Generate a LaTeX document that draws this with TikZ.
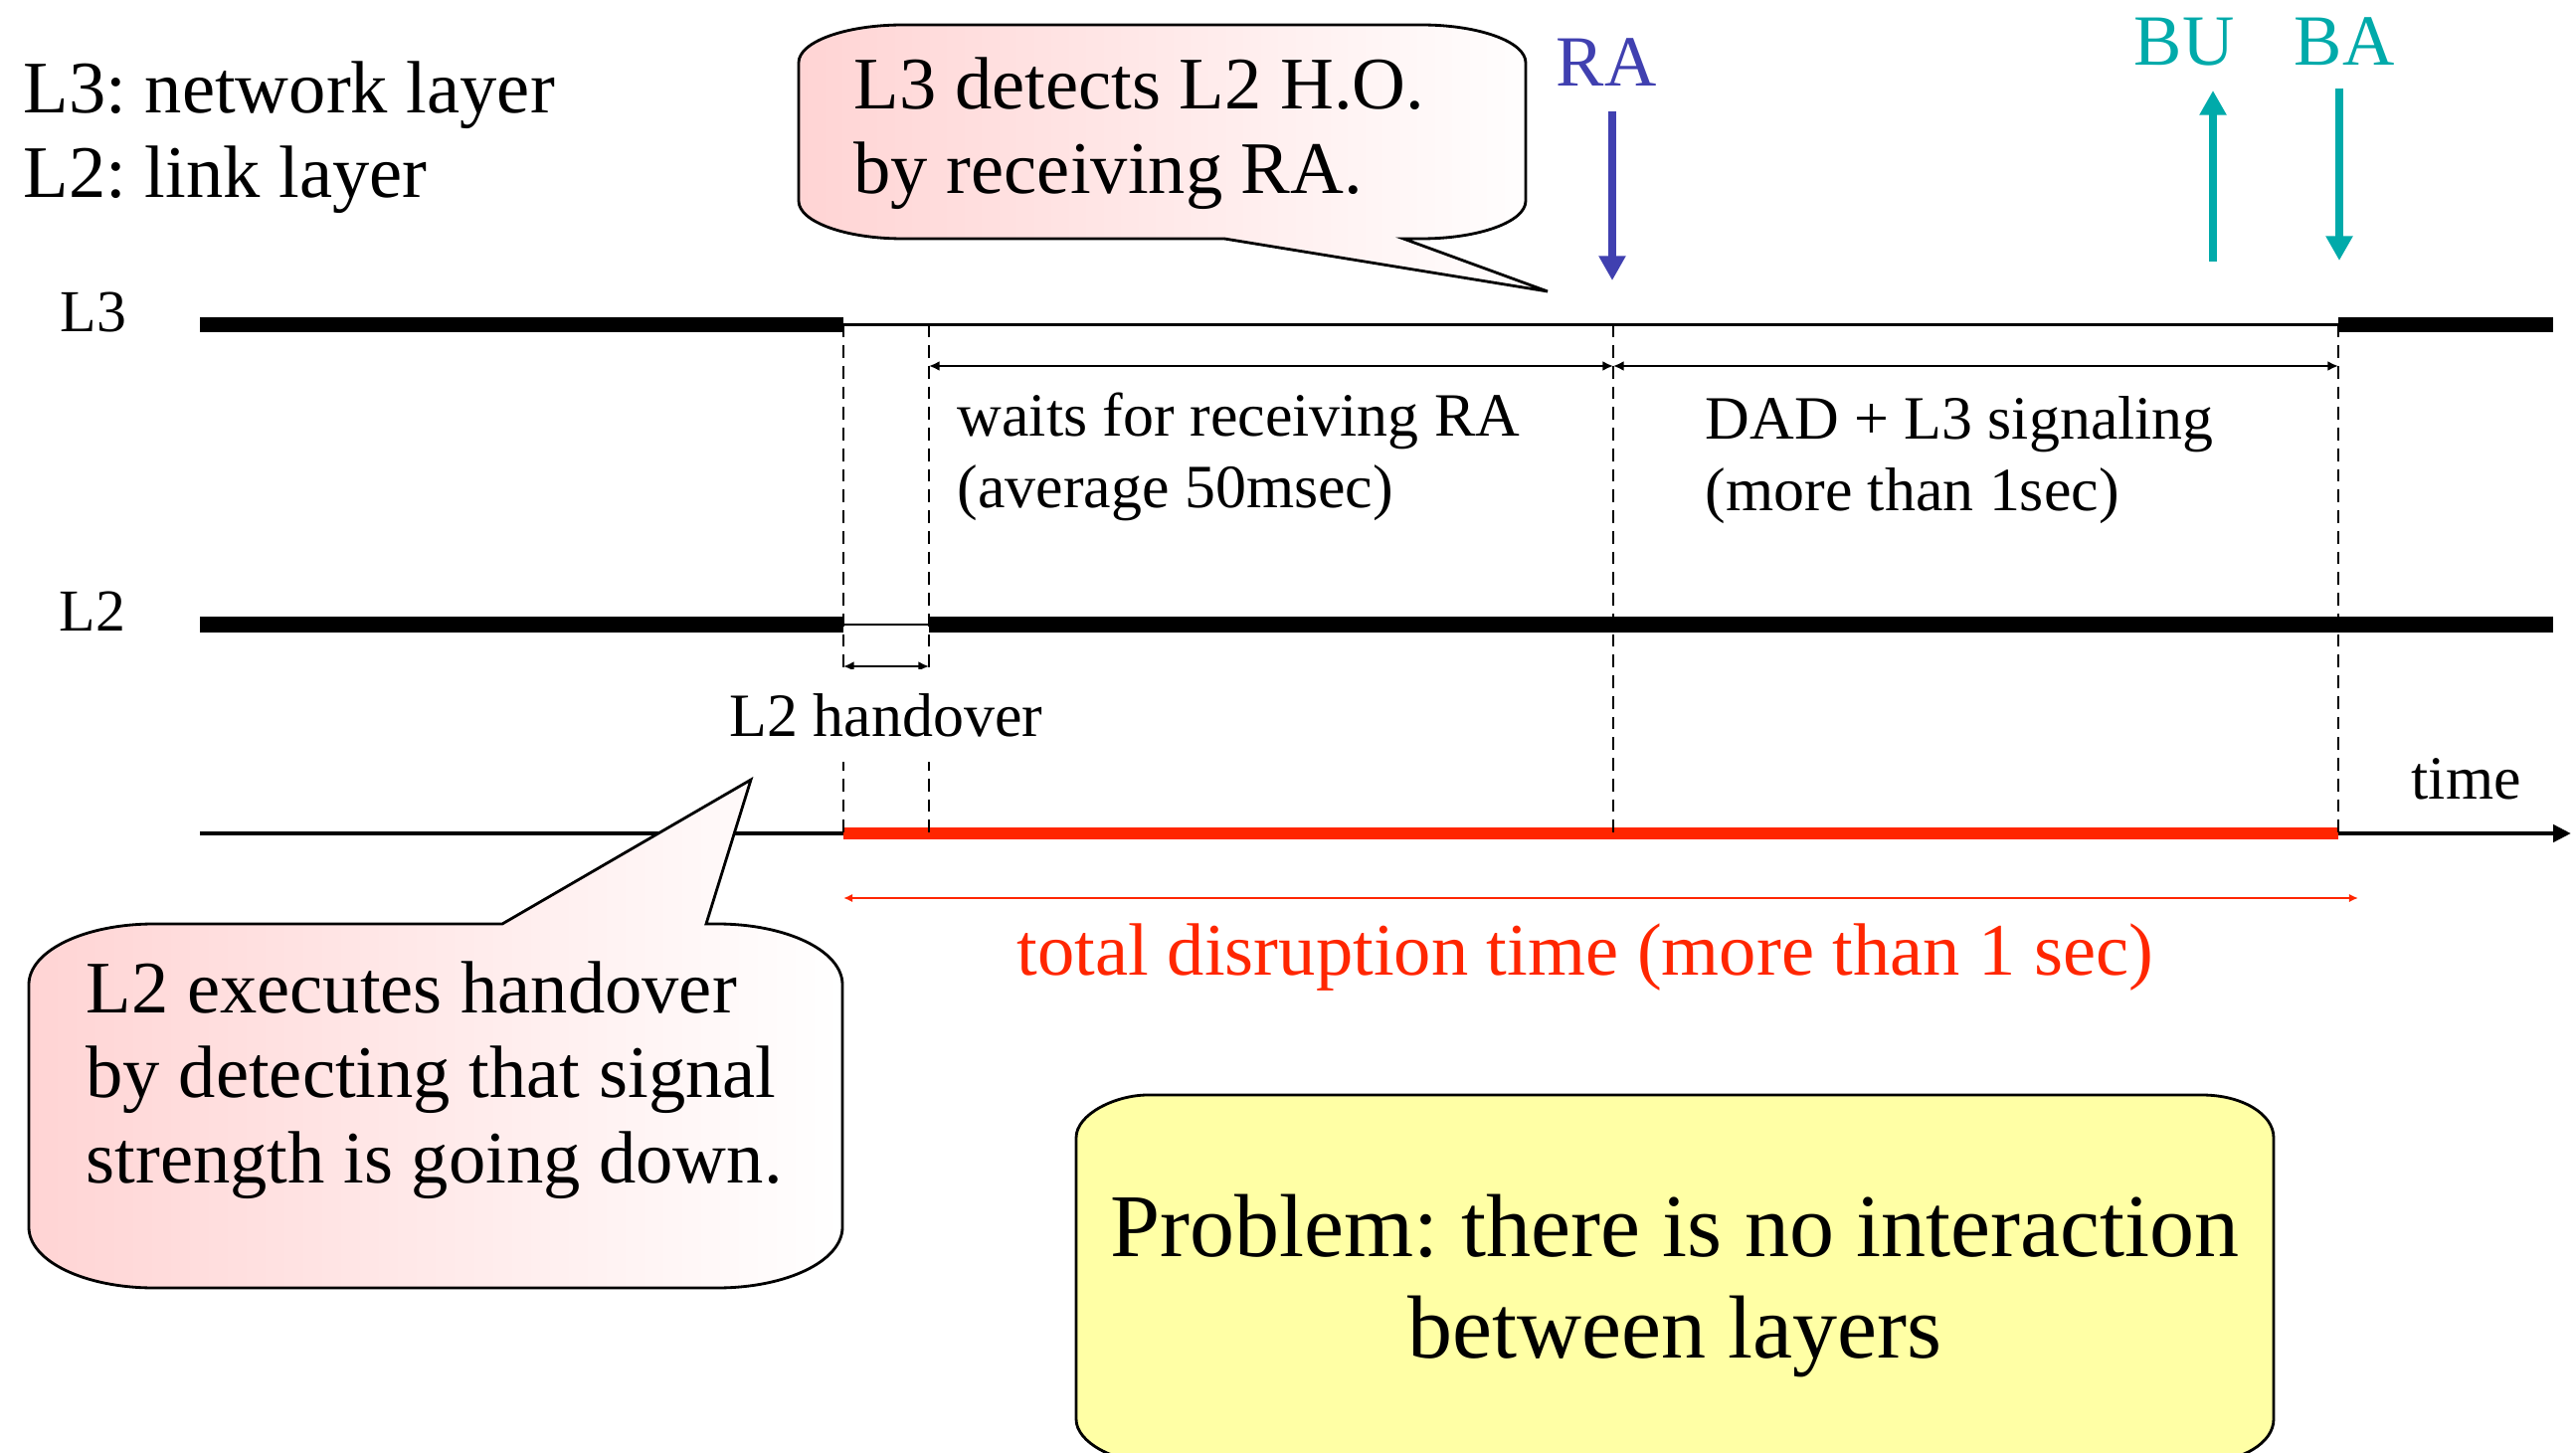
\documentclass[tikz,border=0pt]{standalone}
\usepackage{fontspec}
\setmainfont{Liberation Serif}
\frenchspacing
\usetikzlibrary{arrows.meta}

\definecolor{rablue}{RGB}{64,64,176}
\definecolor{bateal}{RGB}{0,170,170}
\definecolor{disred}{RGB}{255,38,0}
\definecolor{callpink}{RGB}{255,212,212}
\definecolor{probyellow}{RGB}{255,255,165}

\tikzset{
  layerline/.style={line width=4.3pt},
  gapline/.style={line width=0.7pt},
  cutline/.style={line width=0.6pt, dash pattern=on 3.6pt off 2.3pt},
  dimarrow/.style={{Latex[length=3pt,width=2.8pt]}-{Latex[length=3pt,width=2.8pt]}, line width=0.6pt},
  totarrow/.style={{Latex[length=2.6pt,width=2.4pt]}-{Latex[length=2.6pt,width=2.4pt]}, line width=0.8pt, disred},
  msgarrow/.style={-{Triangle[length=7pt,width=7.3pt]}, line width=2.1pt},
  timeaxis/.style={-{Triangle[length=5.1pt,width=4.8pt]}, line width=1.4pt},
  disline/.style={line width=3.5pt, disred},
  bigtext/.style={font=\fontsize{21.2}{24.2}\selectfont, inner sep=0pt, anchor=base west},
  midtext/.style={font=\fontsize{17.6}{20.5}\selectfont, inner sep=0pt, anchor=base west},
  msglabel/.style={font=\fontsize{20.6}{24}\selectfont, inner sep=0pt, anchor=base west},
  callout/.style={draw=black, line width=0.8pt, left color=callpink, right color=white}
}

\begin{document}
\begin{tikzpicture}[x=0.01cm, y=-0.01cm]
  \useasboundingbox (0,0) rectangle (2590,1461);

  % instants on the time line
  \coordinate (t0) at (848,0);
  \coordinate (t1) at (934,0);
  \coordinate (t2) at (1622,0);
  \coordinate (t3) at (2351,0);

  % legend (base = last line)
  \node[bigtext, align=left] (legend) at (23,199) {L3: network layer\\L2: link layer};

  % layer lines
  \coordinate (l3s) at (201,326.5);
  \coordinate (l3e) at (2567,326.5);
  \coordinate (l2s) at (201,628);
  \coordinate (l2e) at (2567,628);
  \node[midtext, font=\fontsize{17}{20}\selectfont] (l3lbl) at (60,334) {L3};
  \node[midtext, font=\fontsize{17}{20}\selectfont] (l2lbl) at (59,634) {L2};
  \draw[layerline] (l3s) -- (l3s -| t0);
  \draw[gapline] (l3s -| t0) -- (l3s -| t3);
  \draw[layerline] (l3s -| t3) -- (l3e);
  \draw[layerline] (l2s) -- (l2s -| t0);
  \draw[gapline] (l2s -| t0) -- (l2s -| t1);
  \draw[layerline] (l2s -| t1) -- (l2e);

  % time axis
  \coordinate (axs) at (201,838);
  \coordinate (axe) at (2585,838);
  \draw[timeaxis] (axs) -- (axe);
  \draw[disline] (axs -| t0) -- (axs -| t3);
  \node[midtext] (time) at (2424,804) {time};

  \foreach \t in {t0,t1,t2,t3}
    \draw[cutline] (\t |- l3s) -- (\t |- axs);

  % durations
  \coordinate (dimy) at (0,368);
  \draw[dimarrow] (t1 |- dimy) -- (t2 |- dimy);
  \draw[dimarrow] (t2 |- dimy) -- (t3 |- dimy);
  \node[midtext, align=left] (waits) at (962,511) {waits for receiving RA\\(average 50msec)};
  \node[midtext, align=left] (dad) at (1714,514) {DAD + L3 signaling\\(more than 1sec)};

  \coordinate (hoy) at (0,670);
  \draw[dimarrow] (t0 |- hoy) -- (t1 |- hoy);
  \node[midtext, fill=white, inner ysep=7pt] (hover) at (733,741) {L2 handover};

  \coordinate (toty) at (0,903);
  \coordinate (totend) at (2371,903);
  \draw[totarrow] (t0 |- toty) -- (totend);
  \node[bigtext, text=disred] (total) at (1022,980) {total disruption time (more than 1 sec)};

  % messages
  \node[msglabel, text=rablue] (ra) at (1564,87) {RA};
  \coordinate (rafrom) at (1621,112);
  \coordinate (rato) at (1621,282);
  \draw[msgarrow, rablue] (rafrom) -- (rato);

  \node[msglabel, text=bateal] (bu) at (2145,66) {BU};
  \node[msglabel, text=bateal] (ba) at (2306,66) {BA};
  \coordinate (bufrom) at (2225,263);
  \coordinate (buto) at (2225,91);
  \draw[msgarrow, bateal] (bufrom) -- (buto);
  \coordinate (bafrom) at (2352,89);
  \coordinate (bato) at (2352,262);
  \draw[msgarrow, bateal] (bafrom) -- (bato);

  % callout on L3
  \draw[callout] (908,25) -- (1429,25) .. controls (1487,25) and (1534,42) .. (1534,63)
    -- (1534,202) .. controls (1534,223) and (1487,240) .. (1429,240)
    -- (1411,240) -- (1556,293) -- (1231,240)
    -- (908,240) .. controls (850,240) and (803,223) .. (803,202)
    -- (803,63) .. controls (803,42) and (850,25) .. (908,25) -- cycle;
  \node[bigtext, align=left] (callthree) at (858,195) {L3 detects L2 H.O.\\by receiving RA.};

  % callout on L2
  \draw[callout] (155,929) -- (505,929) -- (755,784) -- (710,929)
    -- (721,929) .. controls (791,929) and (847,956) .. (847,990)
    -- (847,1234) .. controls (847,1268) and (791,1295) .. (721,1295)
    -- (155,1295) .. controls (85,1295) and (29,1268) .. (29,1234)
    -- (29,990) .. controls (29,956) and (85,929) .. (155,929) -- cycle;
  \node[bigtext, align=left] (calltwo) at (86,1189) {L2 executes handover\\by detecting that signal\\strength is going down.};

  % problem box
  \draw[fill=probyellow, line width=0.8pt] (1154,1101) -- (2214,1101) .. controls (2254,1101) and (2286,1120) .. (2286,1144)
    -- (2286,1427) .. controls (2286,1451) and (2254,1470) .. (2214,1470)
    -- (1154,1470) .. controls (1122,1470) and (1082,1451) .. (1082,1427)
    -- (1082,1144) .. controls (1082,1120) and (1122,1101) .. (1154,1101) -- cycle;
  \node[font=\fontsize{25.6}{29}\selectfont, inner sep=0pt, anchor=base, align=center] (problem) at (1684,1365) {Problem: there is no interaction\\between layers};
\end{tikzpicture}
\end{document}
